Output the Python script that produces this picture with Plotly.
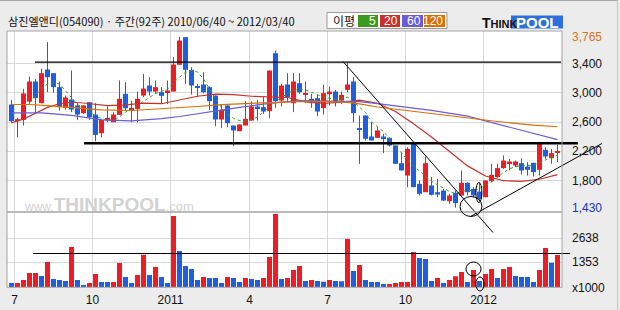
import plotly.graph_objects as go

# ---------------- data ----------------
title_text = "삼진엘앤디(054090) · 주간(92주) 2010/06/40 ~ 2012/03/40"

opens = [2839, 2611, 2629, 2880, 3154, 2857, 3318, 3268, 3076, 2794,
         2908, 2826, 2721, 2871, 2702, 2447, 2620, 2597, 2698, 2985,
         2757, 2780, 2962, 3099, 3017, 3008, 3008, 3017, 3382, 3760,
         3313, 3085, 3113, 3076, 2962, 2634, 2826, 2552, 2474, 2552,
         2620, 2812, 2803, 2748, 3541, 2894, 3113, 2857, 3131, 2971,
         2917, 2926, 2789, 2980, 3017, 2894, 3040, 3154, 2510, 2689,
         2402, 2383, 2402, 2383, 2279, 2037, 1868, 2301, 1754, 1640,
         1732, 1640, 1663, 1517, 1631, 1595, 1768, 1686, 1649, 1572,
         1791, 1846, 1969, 2037, 2005, 2037, 1991, 2042, 1946, 2219,
         2105, 2187]
highs = [2903, 2657, 3053, 3222, 3190, 3327, 3692, 3268, 3154, 2962,
         3304, 2857, 2826, 2871, 2857, 2643, 2812, 2734, 3167, 3145,
         2894, 3017, 3258, 3213, 3167, 3076, 3167, 3486, 3765, 3760,
         3350, 3122, 3281, 3085, 2962, 2839, 2826, 2552, 2566, 2885,
         2885, 2903, 2939, 3304, 3578, 3122, 3268, 3272, 3268, 3154,
         2985, 2971, 3108, 3085, 3040, 3017, 3418, 3213, 2689, 2689,
         2597, 2529, 2438, 2392, 2279, 2187, 2256, 2301, 1800, 2128,
         1846, 1823, 1686, 1618, 1663, 1937, 1777, 1709, 1763, 1800,
         2028, 2028, 2142, 2096, 2073, 2105, 2051, 2042, 2301, 2256,
         2233, 2288]
lows = [2584, 2392, 2552, 2848, 2712, 2857, 3008, 2999, 2757, 2771,
        2734, 2629, 2712, 2629, 2338, 2392, 2597, 2597, 2698, 2757,
        2597, 2597, 2939, 2962, 2985, 2857, 2848, 3017, 3382, 3122,
        2976, 2949, 2990, 2766, 2543, 2516, 2529, 2269, 2474, 2552,
        2620, 2620, 2712, 2652, 2794, 2812, 2871, 2734, 2985, 2857,
        2794, 2680, 2702, 2826, 2812, 2848, 3008, 2597, 2028, 2347,
        2347, 2383, 2174, 2265, 2028, 1937, 1709, 1709, 1595, 1640,
        1595, 1572, 1517, 1481, 1430, 1595, 1595, 1572, 1526, 1572,
        1777, 1846, 1959, 1937, 1982, 1882, 1868, 1855, 1868, 2096,
        2028, 2051]
closes = [2611, 2639, 2990, 3154, 2926, 3268, 3213, 3076, 2803, 2935,
          2771, 2702, 2826, 2666, 2424, 2629, 2657, 2702, 2917, 2789,
          2794, 2917, 3058, 3017, 3076, 2958, 3031, 3386, 3714, 3313,
          3099, 3067, 3008, 2885, 2634, 2766, 2584, 2484, 2566, 2643,
          2812, 2789, 2743, 3304, 2885, 3099, 2939, 3154, 3008, 2994,
          2857, 2743, 2994, 3017, 2871, 2971, 3113, 2721, 2500, 2370,
          2347, 2484, 2365, 2279, 2028, 1937, 2233, 1709, 1618, 2037,
          1604, 1608, 1526, 1595, 1490, 1768, 1640, 1595, 1549, 1800,
          1877, 1969, 2073, 2060, 2060, 1937, 1946, 1914, 2301, 2128,
          2174, 2201]
volumes = [229, 235, 390, 765, 770, 604, 1354, 444, 390, 337,
           2157, 390, 122, 229, 711, 283, 280, 285, 1300, 551,
           229, 658, 1747, 658, 1086, 551, 229, 3817, 1943, 1140,
           979, 390, 551, 497, 495, 229, 551, 497, 283, 497,
           444, 390, 497, 1622, 3924, 444, 497, 926, 1140, 337,
           390, 337, 300, 390, 337, 330, 2586, 872, 1193, 390,
           283, 280, 176, 180, 229, 285, 290, 1889, 1568, 1515,
           337, 497, 229, 390, 586, 818, 283, 926, 337, 711,
           979, 497, 979, 1086, 604, 551, 549, 283, 926, 2104,
           1318, 1729]

ma5 = [None, None, None, 2860, 2960, 3060, 3120, 3135, 3120, 3030,
       2930, 2840, 2785, 2745, 2680, 2645, 2630, 2615, 2670, 2735,
       2775, 2830, 2890, 2940, 2990, 3020, 3050, 3140, 3215, 3280,
       3305, 3285, 3190, 3050, 2920, 2800, 2710, 2650, 2620, 2610,
       2630, 2670, 2730, 2800, 2880, 2940, 2990, 3030, 3050, 3040,
       3005, 2970, 2940, 2925, 2915, 2925, 2940, 2880, 2800, 2730,
       2600, 2530, 2470, 2370, 2250, 2180, 2080, 2000, 1930, 1850,
       1790, 1740, 1690, 1650, 1620, 1650, 1665, 1660, 1690, 1730,
       1780, 1840, 1910, 1960, 1990, 2000, 2005, 2010, 2040, 2080,
       2120, 2145]
ma20_idx = [0, 2, 4, 6, 8, 10, 12, 14, 16, 19, 22, 25, 28, 31, 34, 37, 40,
            43, 46, 49, 52, 55, 58, 61, 64, 67, 70, 73, 76, 79, 82, 85, 88, 91]
ma20_val = [2590, 2640, 2720, 2800, 2850, 2870, 2860, 2840, 2825, 2835, 2858,
            2850, 2898, 2952, 2980, 2975, 2952, 2943, 2935, 2875, 2855, 2870,
            2900, 2856, 2743, 2577, 2395, 2196, 2000, 1861, 1797, 1787, 1817, 1880]
ma60_idx = [0, 5, 10, 15, 20, 25, 28, 31, 35, 38, 43, 48, 53, 58, 61, 65,
            70, 76, 81, 87, 91]
ma60_val = [2725, 2725, 2690, 2630, 2615, 2645, 2675, 2715, 2768, 2800, 2855,
            2892, 2886, 2878, 2850, 2812, 2760, 2680, 2575, 2445, 2358]
ma120_idx = [0, 3, 6, 10, 15, 20, 25, 31, 35, 40, 43, 48, 53, 56, 58, 61,
             65, 70, 76, 81, 87, 91]
ma120_val = [2839, 2839, 2825, 2795, 2765, 2757, 2778, 2812, 2838, 2858, 2866,
             2878, 2880, 2868, 2848, 2805, 2765, 2720, 2657, 2607, 2558, 2535]
ma_labels = ["5", "20", "60", "120"]

tick_pos = [0.5, 13.5, 26.5, 39.67, 52.67, 65.67, 78.67]
tick_text = ["7", "10", "2011", "4", "7", "10", "2012"]
price_ticks = [1800, 2200, 2600, 3000, 3400]
vol_ticks = [0, 1353, 2638]
vol_tick_text = ["x1000", "1353", "2638"]

# user-drawn study lines (candle index, price / volume)
resist_hi_x, resist_hi_y = [3.9, 91.6], [3420, 3420]
resist_mid_x, resist_mid_y = [12.1, 94.4], [2310, 2310]
down_x, down_y = [55.25, 80.25], [3427, 1089]
up_x, up_y = [76.5, 98.4], [1308, 2306]
vol_line_x, vol_line_y = [3.6, 93.1], [1810, 1810]
price_circles = [(74.75, 78.4, 1308, 1581), (77.4, 78.4, 1499, 1773)]
vol_circles = [(75.75, 78.25, 605, 1355), (77.4, 78.75, -198, 551)]

# ---------------- layout geometry ----------------
W, H = 620, 310
PLOT_L, PLOT_R = 7.0, 562.0
PRICE_T, SPLIT, VOL_B = 31.0, 212.0, 287.3
X0PX, DXPX = 11.5, 6.0
Y_REF_PX, Y_REF_P, WON_PER_PX = 63.5, 3400.0, 13.675
VOL_PER_PX = 53.54


def px2i(px):
    return (px - X0PX) / DXPX


def py2p(py):
    return Y_REF_P - (py - Y_REF_PX) * WON_PER_PX


def py2v(py):
    return (VOL_B - py) * VOL_PER_PX


def fx(px):
    return px / W


def fy(py):
    return 1 - py / H


RED, BLUE = "#ee1c25", "#1f5fdf"
MA_COLORS = ["#3c9a1e", "#c8302c", "#6a5cd8", "#dd7000"]
GRID = "#d8d8d8"
BORDER = "#a4a4a4"
NUMFONT = "Liberation Sans"
KRFONT = "Noto Sans CJK KR"

n = len(closes)
idx = list(range(n))
up = [c >= o for o, c in zip(opens, closes)]

fig = go.Figure()

# wicks
for flag, col in ((True, RED), (False, BLUE)):
    xs, ys = [], []
    for i in idx:
        if up[i] == flag:
            xs += [i, i, None]
            ys += [lows[i], highs[i], None]
    fig.add_trace(go.Scatter(x=xs, y=ys, mode="lines", line=dict(color=col, width=1),
                             hoverinfo="skip", xaxis="x", yaxis="y"))

# bodies
body_base = [min(o, c) for o, c in zip(opens, closes)]
body_h = [max(abs(c - o), WON_PER_PX) for o, c in zip(opens, closes)]
fig.add_trace(go.Bar(x=idx, y=body_h, base=body_base, width=5 / 6,
                     marker=dict(color=[RED if u else BLUE for u in up], line=dict(width=0)),
                     hoverinfo="skip", xaxis="x", yaxis="y"))

# moving averages
fig.add_trace(go.Scatter(x=idx, y=ma5, mode="lines",
                         line=dict(color=MA_COLORS[0], width=1, dash="dot"),
                         hoverinfo="skip", xaxis="x", yaxis="y"))
for (mx, my), col in zip(((ma20_idx, ma20_val), (ma60_idx, ma60_val), (ma120_idx, ma120_val)),
                         MA_COLORS[1:]):
    fig.add_trace(go.Scatter(x=mx, y=my, mode="lines", line=dict(color=col, width=1.2),
                             hoverinfo="skip", xaxis="x", yaxis="y"))

# volume bars (red when volume rose vs the previous week)
vol_up = [False] + [volumes[i] > volumes[i - 1] for i in range(1, n)]
fig.add_trace(go.Bar(x=idx, y=volumes, width=5 / 6,
                     marker=dict(color=[RED if u else BLUE for u in vol_up], line=dict(width=0)),
                     hoverinfo="skip", xaxis="x2", yaxis="y2"))

# study lines on full-figure overlay axes (same scales as the panels)
for lx, ly, w in ((resist_hi_x, resist_hi_y, 1.2), (resist_mid_x, resist_mid_y, 2.6),
                  (down_x, down_y, 1.0), (up_x, up_y, 1.0)):
    fig.add_trace(go.Scatter(x=lx, y=ly, mode="lines", line=dict(color="black", width=w),
                             hoverinfo="skip", xaxis="x3", yaxis="y3"))
fig.add_trace(go.Scatter(x=vol_line_x, y=vol_line_y, mode="lines",
                         line=dict(color="black", width=1.2),
                         hoverinfo="skip", xaxis="x3", yaxis="y4"))

shapes = []
# plot background and frame
shapes.append(dict(type="rect", xref="paper", yref="paper", x0=fx(PLOT_L), x1=fx(PLOT_R),
                   y0=fy(VOL_B), y1=fy(PRICE_T), fillcolor="white", line=dict(width=0), layer="below"))
shapes.append(dict(type="rect", xref="paper", yref="paper", x0=fx(PLOT_L), x1=fx(PLOT_R),
                   y0=fy(VOL_B), y1=fy(PRICE_T), line=dict(color=BORDER, width=1), layer="above"))
shapes.append(dict(type="line", xref="paper", yref="paper", x0=fx(PLOT_L), x1=fx(PLOT_R),
                   y0=fy(SPLIT), y1=fy(SPLIT), line=dict(color=BORDER, width=1.5), layer="above"))
# outer frame (top and right)
shapes.append(dict(type="line", xref="paper", yref="paper", x0=0, x1=fx(617.5),
                   y0=fy(0.5), y1=fy(0.5), line=dict(color="#a8a8a8", width=1)))
shapes.append(dict(type="line", xref="paper", yref="paper", x0=fx(617.5), x1=fx(617.5),
                   y0=0, y1=fy(0.5), line=dict(color="#c4c4c4", width=1)))
for x0, x1, y0, y1 in price_circles:
    shapes.append(dict(type="circle", xref="x3", yref="y3", x0=x0, x1=x1, y0=y0, y1=y1,
                       line=dict(color="black", width=1)))
for x0, x1, y0, y1 in vol_circles:
    shapes.append(dict(type="circle", xref="x3", yref="y4", x0=x0, x1=x1, y0=y0, y1=y1,
                       line=dict(color="black", width=1)))

# header legend box
shapes.append(dict(type="rect", xref="paper", yref="paper", x0=fx(327), x1=fx(447),
                   y0=fy(28.5), y1=fy(12.5), fillcolor="white", line=dict(color="#9a9a9a", width=1)))
swatch_x = [(358, 378), (380, 400), (402, 423), (424, 445)]
for (a, b), col in zip(swatch_x, MA_COLORS):
    shapes.append(dict(type="rect", xref="paper", yref="paper", x0=fx(a), x1=fx(b),
                       y0=fy(27), y1=fy(15), fillcolor=col, line=dict(width=0)))
# logo box
shapes.append(dict(type="rect", xref="paper", yref="paper", x0=fx(511), x1=fx(563),
                   y0=fy(28.5), y1=fy(15.5), fillcolor="#2f6fdc", line=dict(width=0)))

annotations = []
annotations.append(dict(xref="paper", yref="paper", x=fx(6), y=fy(20.5), xanchor="left",
                        yanchor="middle", text=title_text, showarrow=False,
                        font=dict(family=KRFONT, size=11.1, color="#111111")))
annotations.append(dict(xref="paper", yref="paper", x=fx(331), y=fy(20.5), xanchor="left",
                        yanchor="middle", text="이평", showarrow=False,
                        font=dict(family=KRFONT, size=12, color="#111111")))
for (a, b), lab in zip(swatch_x, ma_labels):
    annotations.append(dict(xref="paper", yref="paper", x=fx(b), y=fy(21), xanchor="right",
                            yanchor="middle", text=lab, showarrow=False,
                            font=dict(family=NUMFONT, size=12, color="white")))
annotations.append(dict(xref="paper", yref="paper", x=fx(480), y=fy(22.5), xanchor="left",
                        yanchor="middle", showarrow=False,
                        text='<b><span style="font-size:14px">T</span>HINK</b>',
                        font=dict(family=NUMFONT, size=11, color="#111111")))
annotations.append(dict(xref="paper", yref="paper", x=fx(537), y=fy(22.5), xanchor="center",
                        yanchor="middle", showarrow=False, text="<b>POOL</b>",
                        font=dict(family=NUMFONT, size=15, color="white")))
# watermark
annotations.append(dict(xref="paper", yref="paper", x=fx(22), y=fy(204), xanchor="left",
                        yanchor="middle", showarrow=False,
                        text='<span style="font-size:12px">www.</span><b>THINKPOOL</b>'
                             '<span style="font-size:13px">.com</span>',
                        font=dict(family=NUMFONT, size=19, color="#d2d2d2")))
# max / min labels
annotations.append(dict(xref="paper", yref="y", x=fx(570), y=max(highs), xanchor="left",
                        yanchor="middle", showarrow=False, text=f"{max(highs):,}",
                        font=dict(family=NUMFONT, size=12, color="#d8731e")))
annotations.append(dict(xref="paper", yref="y", x=fx(570), y=min(lows), xanchor="left",
                        yanchor="middle", showarrow=False, text=f"{min(lows):,}",
                        font=dict(family=NUMFONT, size=12, color="#1432c8")))

tickfont = dict(family=NUMFONT, size=12, color="#111111")
fig.update_layout(
    width=W, height=H, margin=dict(l=0, r=0, t=0, b=0, pad=0, autoexpand=False),
    paper_bgcolor="#ececec", plot_bgcolor="rgba(0,0,0,0)",
    showlegend=False, barmode="overlay", hovermode=False,
    shapes=shapes, annotations=annotations,
    xaxis=dict(domain=[fx(PLOT_L), fx(PLOT_R)], range=[px2i(PLOT_L), px2i(PLOT_R)], anchor="y",
               tickmode="array", tickvals=tick_pos, showticklabels=False, showgrid=True,
               gridcolor=GRID, gridwidth=1, zeroline=False, showline=False, ticks="",
               automargin=False),
    yaxis=dict(domain=[fy(SPLIT), fy(PRICE_T)], range=[py2p(SPLIT), py2p(PRICE_T)], anchor="x",
               side="right", tickmode="array", tickvals=price_ticks, tickformat=",d",
               showgrid=True, gridcolor=GRID, gridwidth=1, zeroline=False, showline=False,
               ticks="", ticklabelstandoff=9, tickfont=tickfont, automargin=False),
    xaxis2=dict(domain=[fx(PLOT_L), fx(PLOT_R)], range=[px2i(PLOT_L), px2i(PLOT_R)], anchor="y2",
                tickmode="array", tickvals=tick_pos, ticktext=tick_text, showgrid=True,
                gridcolor=GRID, gridwidth=1, zeroline=False, showline=False, ticks="",
                ticklabelstandoff=4, tickfont=dict(family=NUMFONT, size=12, color="#111111"),
                automargin=False),
    yaxis2=dict(domain=[fy(VOL_B), fy(SPLIT)], range=[0, py2v(SPLIT)], anchor="x2",
                side="right", tickmode="array", tickvals=vol_ticks, ticktext=vol_tick_text,
                showgrid=True, gridcolor=GRID, gridwidth=1, zeroline=False, showline=False,
                ticks="", ticklabelstandoff=9, tickfont=tickfont, automargin=False),
    xaxis3=dict(domain=[0, 1], range=[px2i(0), px2i(W)], anchor="y3", visible=False,
                automargin=False),
    yaxis3=dict(domain=[0, 1], range=[py2p(H), py2p(0)], anchor="x3", visible=False,
                automargin=False),
    yaxis4=dict(domain=[0, 1], range=[py2v(H), py2v(0)], anchor="x3", visible=False,
                automargin=False),
)

fig.write_html("out.html", config={"displayModeBar": False})
